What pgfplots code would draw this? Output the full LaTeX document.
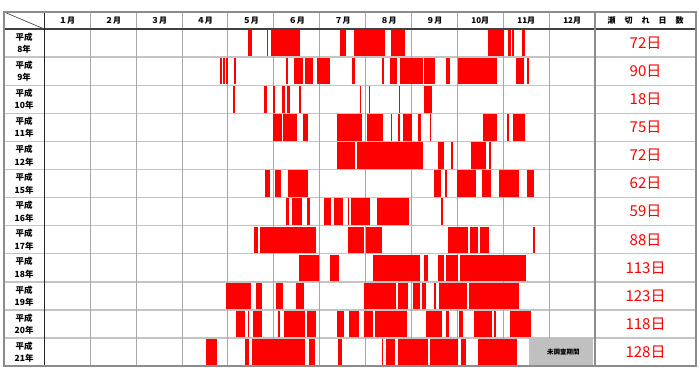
\documentclass[border=0pt]{standalone}
\usepackage{pgfplots}
\pgfplotsset{compat=1.18}
\usepackage{pgfplotstable}
\usepackage{fontspec}
\newfontfamily\jp{Noto Sans CJK JP}
\definecolor{rowline}{HTML}{C4C4C4}
\definecolor{monline}{HTML}{A8A8A8}
\definecolor{frame}{HTML}{8C8C8C}
\definecolor{boxgray}{HTML}{C0C0C0}

% r = row (0 = H8 ... 11 = H21); s,e = start/end in months from 1 Jan (equal-width months)
\pgfplotstableread{
r s e
0 4.444 4.519
0 4.845 4.874
0 4.939 5.571
0 6.449 6.580
0 6.741 7.423
0 7.553 7.858
0 9.660 10.022
0 10.109 10.168
0 10.196 10.240
0 10.407 10.473
1 3.828 3.865
1 3.893 3.930
1 3.952 3.996
1 4.133 4.170
1 5.259 5.309
1 5.447 5.630
1 5.686 5.847
1 5.941 6.231
1 6.697 6.769
1 7.351 7.394
1 7.525 7.684
1 7.756 8.244
1 8.272 8.512
1 8.745 8.839
1 9.007 9.856
1 10.283 10.444
1 10.510 10.553
2 4.118 4.161
2 4.786 4.852
2 4.989 5.026
2 5.185 5.251
2 5.281 5.346
2 5.549 5.586
2 6.871 6.893
2 7.068 7.096
2 7.721 7.756
2 8.279 8.440
3 4.976 5.185
3 5.207 5.512
3 5.643 5.745
3 6.370 6.922
3 7.024 7.373
3 7.553 7.582
3 7.699 7.756
3 7.821 8.004
3 8.142 8.207
3 8.403 8.431
3 9.551 9.856
3 10.081 10.124
3 10.211 10.473
4 6.383 6.769
4 6.813 8.244
4 8.577 8.708
4 8.867 8.898
4 9.296 9.630
4 9.688 9.725
5 4.815 4.911
5 5.026 5.157
5 5.316 5.739
5 8.497 8.636
5 8.730 8.767
5 8.991 9.412
5 9.529 9.725
5 9.913 10.349
5 10.510 10.669
6 5.259 5.331
6 5.397 5.621
6 5.723 5.789
6 6.087 6.246
6 6.318 6.508
6 6.610 6.645
6 6.682 7.096
6 7.242 7.946
6 8.643 8.680
7 4.575 4.662
7 4.699 5.919
7 6.610 6.965
7 7.009 7.364
7 8.802 9.231
7 9.275 9.455
7 9.499 9.695
7 10.647 10.684
8 5.542 5.991
8 6.224 6.414
8 7.155 8.185
8 8.272 8.359
8 8.571 8.715
8 8.752 9.020
8 9.063 10.495
9 3.952 4.503
9 4.619 4.749
9 5.048 5.200
9 5.477 5.664
9 6.954 7.656
9 7.699 7.930
9 8.026 8.192
9 8.229 8.316
9 8.497 8.540
9 8.593 9.216
9 9.253 10.336
10 4.183 4.373
10 4.431 4.466
10 4.547 4.736
10 5.085 5.129
10 5.222 5.680
10 5.717 5.913
10 6.383 6.536
10 6.632 6.856
10 6.972 7.168
10 7.198 7.908
10 8.309 8.671
10 8.745 8.817
10 9.028 9.115
10 9.355 9.747
10 9.804 9.834
10 10.139 10.597
11 3.516 3.763
11 4.373 4.453
11 4.532 5.680
11 5.767 5.898
11 6.399 6.492
11 7.351 7.379
11 7.451 7.641
11 7.712 8.366
11 8.403 9.013
11 9.078 9.194
11 9.449 10.298
}\bars

\begin{document}
\begin{tikzpicture}
\begin{axis}[
  width=700pt, height=380pt, scale only axis,
  xmin=-0.965, xmax=14.285, ymin=-1.032, ymax=12.491,
  y dir=reverse, hide axis, clip=false,
]
\path (rel axis cs:0,0) rectangle (rel axis cs:1,1);
% row lines
\pgfplotsinvokeforeach{1,...,11}{
  \draw[rowline, line width=1.3pt] (axis cs:-0.878,#1) -- (axis cs:14.198,#1);
}
% month lines
\pgfplotsinvokeforeach{1,...,11}{
  \draw[monline, line width=1pt] (axis cs:#1,-0.605) -- (axis cs:#1,12);
}
% header separator, column separators
\draw[black!75, line width=1.5pt] (axis cs:-0.878,0) -- (axis cs:14.198,0);
\draw[black!85, line width=1pt] (axis cs:0,-0.605) -- (axis cs:0,12);
\draw[frame, line width=1.5pt] (axis cs:12,-0.605) -- (axis cs:12,12);
\draw[black!70, line width=0.7pt] (axis cs:-0.878,-0.605) -- (axis cs:0,0);

% bars
\addplot[red, line width=26.5pt, mark=none,
  quiver={u=\thisrow{e}-\thisrow{s}, v=0}]
  table[x=s, y expr=\thisrow{r}+0.5] {\bars};

% unsurveyed box
\fill[boxgray] (axis cs:10.566,11.01) rectangle (axis cs:11.961,11.96);
\node[font=\jp\bfseries\fontsize{6.5}{7}\selectfont] at (axis cs:11.31,11.49) {未調査期間};

% outer frame
\draw[frame, line width=1.6pt] (axis cs:-0.878,-0.605) rectangle (axis cs:14.198,12);

% header labels
\begin{scope}[every node/.style={font=\jp\bfseries\fontsize{8}{8}\selectfont}]
\node at (axis cs:0.5,-0.30) {１月};
\node at (axis cs:1.5,-0.30) {２月};
\node at (axis cs:2.5,-0.30) {３月};
\node at (axis cs:3.5,-0.30) {４月};
\node at (axis cs:4.5,-0.30) {５月};
\node at (axis cs:5.5,-0.30) {６月};
\node at (axis cs:6.5,-0.30) {７月};
\node at (axis cs:7.5,-0.30) {８月};
\node at (axis cs:8.5,-0.30) {９月};
\node at (axis cs:9.5,-0.30) {10月};
\node at (axis cs:10.5,-0.30) {11月};
\node at (axis cs:11.5,-0.30) {12月};
\node at (axis cs:13.099,-0.30) {瀬\hspace{9pt}切\hspace{9pt}れ\hspace{9pt}日\hspace{9pt}数};
\end{scope}

% row labels
\begin{scope}[every node/.style={font=\jp\bfseries\fontsize{8.5}{12.5}\selectfont, align=center}]
\node at (axis cs:-0.439,0.5) {平成\\8年};
\node at (axis cs:-0.439,1.5) {平成\\9年};
\node at (axis cs:-0.439,2.5) {平成\\10年};
\node at (axis cs:-0.439,3.5) {平成\\11年};
\node at (axis cs:-0.439,4.5) {平成\\12年};
\node at (axis cs:-0.439,5.5) {平成\\15年};
\node at (axis cs:-0.439,6.5) {平成\\16年};
\node at (axis cs:-0.439,7.5) {平成\\17年};
\node at (axis cs:-0.439,8.5) {平成\\18年};
\node at (axis cs:-0.439,9.5) {平成\\19年};
\node at (axis cs:-0.439,10.5) {平成\\20年};
\node at (axis cs:-0.439,11.5) {平成\\21年};
\end{scope}

% counts
\begin{scope}[every node/.style={font=\jp\fontsize{15}{15}\selectfont, text=red}]
\node at (axis cs:13.099,0.5) {72日};
\node at (axis cs:13.099,1.5) {90日};
\node at (axis cs:13.099,2.5) {18日};
\node at (axis cs:13.099,3.5) {75日};
\node at (axis cs:13.099,4.5) {72日};
\node at (axis cs:13.099,5.5) {62日};
\node at (axis cs:13.099,6.5) {59日};
\node at (axis cs:13.099,7.5) {88日};
\node at (axis cs:13.099,8.5) {113日};
\node at (axis cs:13.099,9.5) {123日};
\node at (axis cs:13.099,10.5) {118日};
\node at (axis cs:13.099,11.5) {128日};
\end{scope}
\end{axis}
\end{tikzpicture}
\end{document}
